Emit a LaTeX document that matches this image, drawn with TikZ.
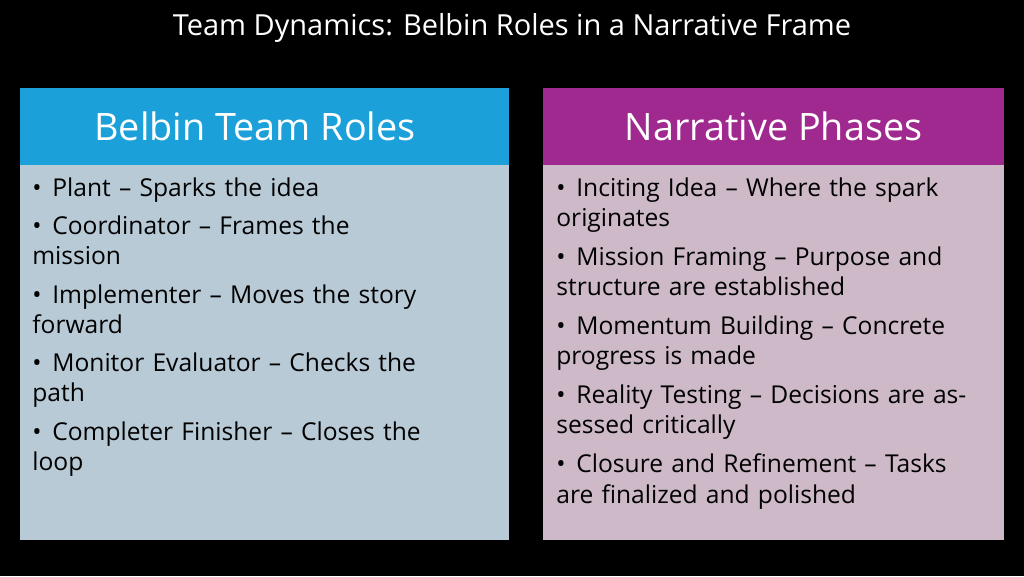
\documentclass[tikz,border=0pt]{standalone}
\usepackage{fontspec}
\setmainfont{Open Sans}
\begin{document}
\begin{tikzpicture}[x=0.02cm,y=-0.02cm,
 itm/.style={anchor=north west,inner sep=0pt,text width=#1*0.02cm,align=left,font=\fontsize{14pt}{17.6pt}\selectfont,text=black},
 hdr/.style={text=white,font=\fontsize{21.5pt}{24pt}\selectfont}]
\fill[black] (0,0) rectangle (1024,576);
\useasboundingbox (0,0) rectangle (1024,576);
\node[text=white,font=\fontsize{16.5pt}{18pt}\selectfont] (title) at (512,28) {Team Dynamics: Belbin Roles in a Narrative Frame};
\fill[fill={rgb,255:red,184;green,202;blue,214}] (20,165) rectangle (509,540);
\fill[fill={rgb,255:red,27;green,160;blue,217}] (20,88) rectangle (509,165);
\node[hdr] (lh) at (255,126) {Belbin Team Roles};
\fill[fill={rgb,255:red,205;green,185;blue,200}] (543,165) rectangle (1004,540);
\fill[fill={rgb,255:red,160;green,41;blue,143}] (543,88) rectangle (1004,165);
\node[hdr] (rh) at (773.5,126) {Narrative Phases};
\newcommand{\bul}[1]{\hangindent=20\dimexpr0.02cm\relax\hangafter=1 \makebox[20\dimexpr0.02cm\relax][l]{\textbullet}#1}
\node[itm=340] (l1) at (32,177) {\bul{Plant – Sparks the idea}};
\node[itm=340] (l2) at (32,215) {\bul{Coordinator – Frames the mission}};
\node[itm=420] (l3) at (32,284) {\bul{Implementer – Moves the story forward}};
\node[itm=440] (l4) at (32,352) {\bul{Monitor Evaluator – Checks the path}};
\node[itm=440] (l5) at (32,421) {\bul{Completer Finisher – Closes the loop}};
\node[itm=420] (r1) at (556,177) {\bul{Inciting Idea – Where the spark originates}};
\node[itm=420] (r2) at (556,246) {\bul{Mission Framing – Purpose and structure are established}};
\node[itm=420] (r3) at (556,315) {\bul{Momentum Building – Concrete progress is made}};
\node[itm=420] (r4) at (556,384) {\bul{Reality Testing – Decisions are assessed critically}};
\node[itm=420] (r5) at (556,453) {\bul{Closure and Refinement – Tasks are finalized and polished}};
\end{tikzpicture}
\end{document}
